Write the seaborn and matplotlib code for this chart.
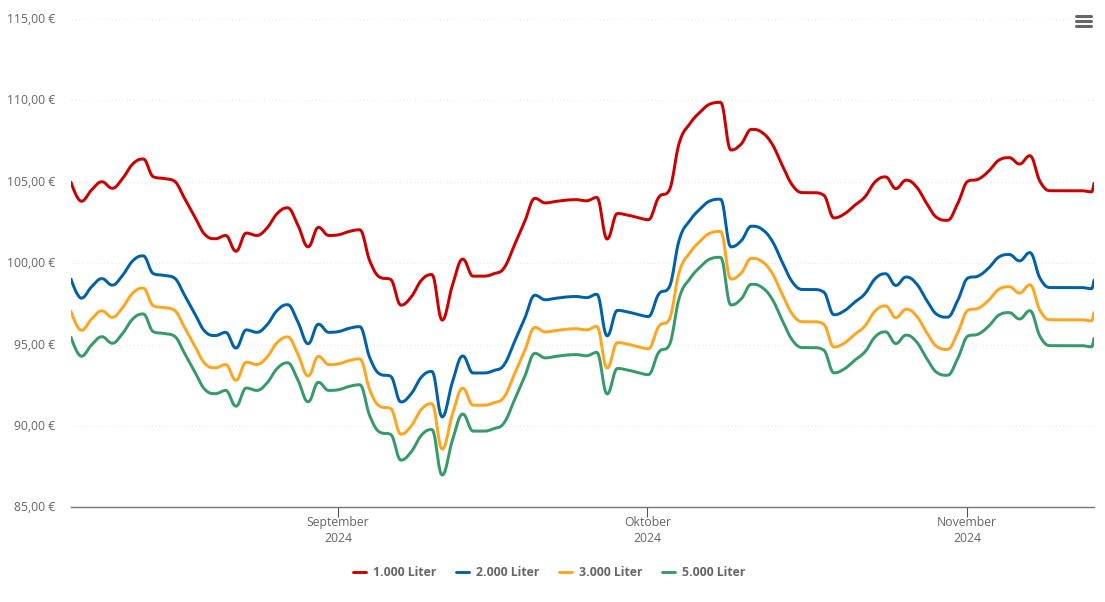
"""
Heizoelpreise Aug-Nov 2024, vier Abnahmemengen, Spline-Linien wie im Original.
"""

import numpy as np
import pandas as pd
import matplotlib
matplotlib.use('Agg')
import matplotlib.pyplot as plt
import matplotlib.transforms as mtransforms
import seaborn as sns
from matplotlib.lines import Line2D

W, H = 1105, 602

# daily values, the last entry is a later reading on the final day
start = pd.Timestamp('2024-08-06 02:30')
day_offsets = list(range(100)) + [99.22]

liter_1000 = [
    104.97, 103.80, 104.50, 105.00, 104.60, 105.20, 106.10, 106.40, 105.30, 105.20,
    105.05, 104.00, 102.85, 101.75, 101.50, 101.70, 100.73, 101.85, 101.70, 102.15,
    103.05, 103.40, 102.35, 101.00, 102.20, 101.70, 101.75, 101.95, 102.05, 100.10,
    99.12, 99.00, 97.42, 97.93, 98.96, 99.30, 96.50, 98.65, 100.25, 99.20,
    99.20, 99.35, 99.70, 101.10, 102.55, 103.98, 103.70, 103.79, 103.87, 103.90,
    103.83, 104.04, 101.48, 103.05, 102.95, 102.80, 102.67, 104.04, 104.45, 107.40,
    108.55, 109.27, 109.78, 109.88, 106.95, 107.32, 108.22, 108.04, 107.32, 105.99,
    104.76, 104.33, 104.33, 104.18, 102.78, 103.02, 103.55, 104.07, 105.00, 105.30,
    104.58, 105.10, 104.69, 103.66, 102.79, 102.63, 103.66, 105.04, 105.16, 105.65,
    106.33, 106.48, 106.09, 106.60, 105.00, 104.45, 104.45, 104.45, 104.45, 104.38, 104.90,
]
liter_2000 = [
    99.02, 97.85, 98.55, 99.05, 98.65, 99.25, 100.15, 100.45, 99.35, 99.25,
    99.10, 98.05, 96.90, 95.80, 95.55, 95.75, 94.78, 95.90, 95.75, 96.20,
    97.10, 97.45, 96.40, 95.05, 96.25, 95.75, 95.80, 96.00, 96.10, 94.15,
    93.17, 93.05, 91.47, 91.98, 93.01, 93.35, 90.55, 92.70, 94.30, 93.25,
    93.25, 93.40, 93.75, 95.15, 96.60, 98.03, 97.75, 97.84, 97.92, 97.95,
    97.88, 98.09, 95.53, 97.10, 97.00, 96.85, 96.72, 98.09, 98.50, 101.45,
    102.60, 103.32, 103.83, 103.93, 101.00, 101.37, 102.27, 102.09, 101.37, 100.04,
    98.81, 98.38, 98.38, 98.23, 96.83, 97.07, 97.60, 98.12, 99.05, 99.35,
    98.63, 99.15, 98.74, 97.71, 96.84, 96.68, 97.71, 99.09, 99.21, 99.70,
    100.38, 100.53, 100.14, 100.65, 99.05, 98.50, 98.50, 98.50, 98.50, 98.43, 98.95,
]
liter_3000 = [
    97.04, 95.87, 96.57, 97.07, 96.67, 97.27, 98.17, 98.47, 97.37, 97.27,
    97.12, 96.07, 94.92, 93.82, 93.57, 93.77, 92.80, 93.92, 93.77, 94.22,
    95.12, 95.47, 94.42, 93.07, 94.27, 93.77, 93.82, 94.02, 94.12, 92.17,
    91.19, 91.07, 89.49, 90.00, 91.03, 91.37, 88.57, 90.72, 92.32, 91.27,
    91.27, 91.42, 91.77, 93.17, 94.62, 96.05, 95.77, 95.86, 95.94, 95.97,
    95.90, 96.11, 93.55, 95.12, 95.02, 94.87, 94.74, 96.11, 96.52, 99.47,
    100.62, 101.34, 101.85, 101.95, 99.02, 99.39, 100.29, 100.11, 99.39, 98.06,
    96.83, 96.40, 96.40, 96.25, 94.85, 95.09, 95.62, 96.14, 97.07, 97.37,
    96.65, 97.17, 96.76, 95.73, 94.86, 94.70, 95.73, 97.11, 97.23, 97.72,
    98.40, 98.55, 98.16, 98.67, 97.07, 96.52, 96.52, 96.52, 96.52, 96.45, 96.97,
]
liter_5000 = [
    95.45, 94.28, 94.98, 95.48, 95.08, 95.68, 96.58, 96.88, 95.78, 95.68,
    95.53, 94.48, 93.33, 92.23, 91.98, 92.18, 91.21, 92.33, 92.18, 92.63,
    93.53, 93.88, 92.83, 91.48, 92.68, 92.18, 92.23, 92.43, 92.53, 90.58,
    89.60, 89.48, 87.90, 88.41, 89.44, 89.78, 86.98, 89.13, 90.73, 89.68,
    89.68, 89.83, 90.18, 91.58, 93.03, 94.46, 94.18, 94.27, 94.35, 94.38,
    94.31, 94.52, 91.96, 93.53, 93.43, 93.28, 93.15, 94.52, 94.93, 97.88,
    99.03, 99.75, 100.26, 100.36, 97.43, 97.80, 98.70, 98.52, 97.80, 96.47,
    95.24, 94.81, 94.81, 94.66, 93.26, 93.50, 94.03, 94.55, 95.48, 95.78,
    95.06, 95.58, 95.17, 94.14, 93.27, 93.11, 94.14, 95.52, 95.64, 96.13,
    96.81, 96.96, 96.57, 97.08, 95.48, 94.93, 94.93, 94.93, 94.93, 94.86, 95.38,
]

series_names = ['1.000 Liter', '2.000 Liter', '3.000 Liter', '5.000 Liter']
series_values = [liter_1000, liter_2000, liter_3000, liter_5000]
series_colors = ['#cc0000', '#0061a8', '#ffa51f', '#379a6a']

y_ticks = [85, 90, 95, 100, 105, 110, 115]
x_tick_dates = ['2024-09-01', '2024-10-01', '2024-11-01']
x_tick_labels = ['September\n2024', 'Oktober\n2024', 'November\n2024']


def spline_curve(x, y, steps=12, smoothing=1.5):
    # same curve type as the original spline series: bezier between the readings
    x = np.asarray(x, dtype=float)
    y = np.asarray(y, dtype=float)
    n = len(x)
    left_x, left_y = x.copy(), y.copy()
    right_x, right_y = x.copy(), y.copy()
    denom = smoothing + 1
    for i in range(1, n - 1):
        lx = (smoothing * x[i] + x[i - 1]) / denom
        ly = (smoothing * y[i] + y[i - 1]) / denom
        rx = (smoothing * x[i] + x[i + 1]) / denom
        ry = (smoothing * y[i] + y[i + 1]) / denom
        if rx != lx:
            slope = (ry - ly) / (rx - lx)
            correction = slope * (x[i] - lx) + ly - y[i]
            ly -= correction
            ry -= correction
        # keep control points from overshooting the neighbours
        if ly > y[i - 1] and ly > y[i]:
            ly = max(y[i - 1], y[i])
            ry = 2 * y[i] - ly
        elif ly < y[i - 1] and ly < y[i]:
            ly = min(y[i - 1], y[i])
            ry = 2 * y[i] - ly
        if ry > y[i + 1] and ry > y[i]:
            ry = max(y[i + 1], y[i])
            ly = 2 * y[i] - ry
        elif ry < y[i + 1] and ry < y[i]:
            ry = min(y[i + 1], y[i])
            ly = 2 * y[i] - ry
        left_x[i], left_y[i], right_x[i], right_y[i] = lx, ly, rx, ry

    t = np.linspace(0, 1, steps, endpoint=False)[:, None]
    xs, ys = [], []
    for i in range(n - 1):
        px = [x[i], right_x[i], left_x[i + 1], x[i + 1]]
        py = [y[i], right_y[i], left_y[i + 1], y[i + 1]]
        b = np.hstack([(1 - t) ** 3, 3 * t * (1 - t) ** 2, 3 * t ** 2 * (1 - t), t ** 3])
        xs.append(b @ np.array(px))
        ys.append(b @ np.array(py))
    xs.append([x[-1]])
    ys.append([y[-1]])
    return np.concatenate(xs), np.concatenate(ys)


def main():
    sns.set_theme(style='white')
    plt.rcParams['font.family'] = ['Open Sans', 'DejaVu Sans']

    frames = []
    for name, values in zip(series_names, series_values):
        cx, cy = spline_curve(day_offsets, values)
        frames.append(pd.DataFrame({
            'datum': start + pd.to_timedelta(cx, unit='D'),
            'preis': cy,
            'menge': name,
        }))
    df = pd.concat(frames, ignore_index=True)

    fig = plt.figure(figsize=(W / 100, H / 100), dpi=100, facecolor='white')
    ax = fig.add_axes([71 / W, (H - 507.3) / H, 1023 / W, 488.3 / H])

    sns.lineplot(data=df, x='datum', y='preis', hue='menge',
                 palette=dict(zip(series_names, series_colors)),
                 estimator=None, sort=False, linewidth=2.15, ax=ax, zorder=3)
    for line in ax.get_lines():
        line.set_solid_capstyle('round')
        line.set_solid_joinstyle('round')

    ax.set_xlim(start, start + pd.to_timedelta(99.22, unit='D'))
    ax.set_ylim(85, 115)
    ax.set_xlabel('')
    ax.set_ylabel('')

    ax.set_yticks(y_ticks)
    ax.set_yticklabels([f'{v:.2f} €'.replace('.', ',') for v in y_ticks])
    ax.set_xticks(pd.to_datetime(x_tick_dates))
    ax.set_xticklabels(x_tick_labels, linespacing=1.22)
    ax.tick_params(axis='y', length=0, pad=11.5, labelsize=8.7, labelcolor='#666666')
    ax.tick_params(axis='x', length=7.2, width=0.8, color='#555555', bottom=True,
                   pad=-0.7, labelsize=8.8, labelcolor='#666666')

    # y labels sit a pixel above their grid lines
    up_1px = mtransforms.ScaledTranslation(0, 1 / 100, fig.dpi_scale_trans)
    for label in ax.get_yticklabels():
        label.set_transform(label.get_transform() + up_1px)

    ax.grid(axis='y', color='#e4e4e4', linewidth=0.75, linestyle=(0, (1, 2.5)))
    ax.set_axisbelow(True)
    for side in ['top', 'left', 'right']:
        ax.spines[side].set_visible(False)
    ax.spines['bottom'].set_color('#777777')
    ax.spines['bottom'].set_linewidth(1.0)

    handles, labels = ax.get_legend_handles_labels()
    for h in handles:
        h.set_linewidth(2.1)
        h.set_solid_capstyle('round')
    leg = ax.legend(handles, labels, ncol=4, frameon=False, loc='center',
                    bbox_to_anchor=(549.5 / W, (H - 573) / H),
                    bbox_transform=fig.transFigure,
                    prop={'size': 8.8, 'weight': 'bold'},
                    handlelength=1.07, handletextpad=0.58, columnspacing=1.59)
    for text in leg.get_texts():
        text.set_color('#666666')

    # export menu icon top right
    for y_px in [16.3, 21.3, 26.3]:
        fig.add_artist(Line2D([1076 / W, 1091 / W], [(H - y_px) / H] * 2,
                              color='#666666', linewidth=2.2, solid_capstyle='round'))

    fig.savefig('out.png', dpi=100)
    plt.close(fig)


if __name__ == '__main__':
    main()
